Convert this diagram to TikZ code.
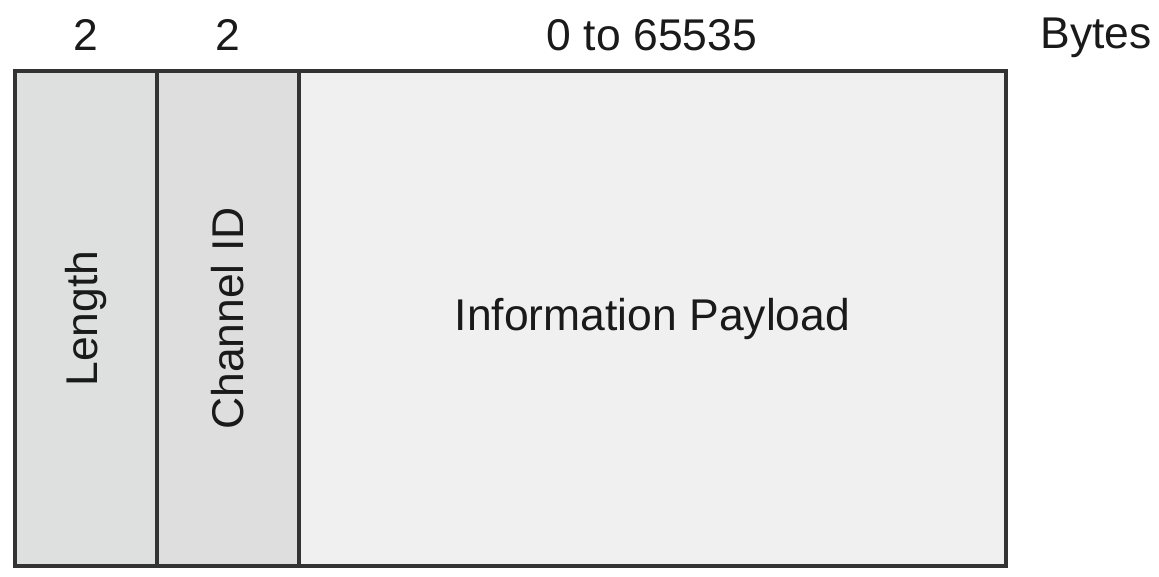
\documentclass[tikz,border=0pt]{standalone}
\usepackage{fontspec}
\setmainfont{Liberation Sans}
\definecolor{lenfill}{HTML}{DDE0DF}
\definecolor{chanfill}{HTML}{DEDEDE}
\definecolor{payfill}{HTML}{F0F0F0}
\definecolor{edge}{HTML}{333333}
\definecolor{ink}{HTML}{1A1A1A}
\begin{document}
\begin{tikzpicture}[x=0.02cm,y=-0.02cm,
    field/.style={draw=edge,line width=2pt},
    lbl/.style={text=ink,font=\fontsize{25.3}{30}\selectfont,inner sep=0pt}]
      \useasboundingbox (0,0) rectangle (1159,576);
      % fields
      \draw[field,fill=lenfill]  (15,71)  rectangle (157,566) node[lbl,midway,rotate=90] (len) {Length};
      \draw[field,fill=chanfill] (157,71) rectangle (299,566) node[lbl,midway,rotate=90] (chan) {Channel ID};
      \draw[field,fill=payfill]  (299,71) rectangle (1006,566) node[lbl,midway] (pay) {Information Payload};
      % sizes
      \node[lbl] (s1) at (86,35) {2};
      \node[lbl] (s2) at (228,35) {2};
      \node[lbl] (s3) at (652,35) {0 to 65535};
      \node[lbl,anchor=west] (unit) at (1040,38) {Bytes};
     \end{tikzpicture}
\end{document}
